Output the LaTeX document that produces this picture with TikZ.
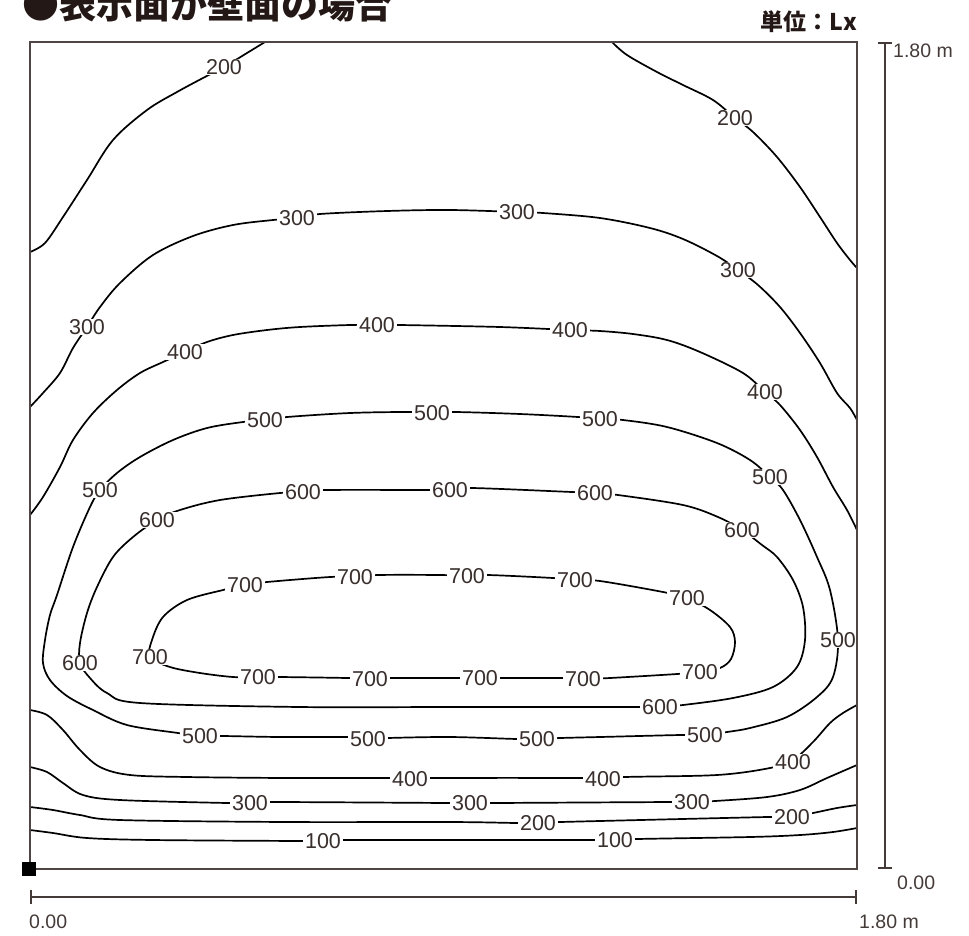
\documentclass[tikz,border=0pt]{standalone}
\usepackage{fontspec}
\setmainfont{Liberation Sans}
\newfontfamily\cjk{Noto Sans CJK JP}
\usetikzlibrary{arrows.meta}
\definecolor{ink}{HTML}{231815}

\begin{document}
\begin{tikzpicture}[x=1pt,y=-1pt,
        contour/.style={line width=1.7pt,line join=round,line cap=round},
        level/.style={fill=white,inner xsep=2.5pt,inner ysep=0.5pt,text=ink!90,font=\fontsize{21.5}{22}\selectfont},
        frame/.style={line width=2pt,draw=ink!80},
        scalebar/.style={line width=1.8pt,draw=ink!85,{Bar[width=14pt]}-{Bar[width=14pt]}},
        scalelabel/.style={anchor=west,inner sep=0pt,text=ink!85,font=\fontsize{19.5}{20}\selectfont}]
        \useasboundingbox (0,0) rectangle (969,935);

        \node[anchor=base west,inner sep=0pt,text=ink,font=\cjk\bfseries\fontsize{37}{40}\selectfont] (Title) at (22,18) {●表示面が壁面の場合};
        \node[anchor=east,inner sep=0pt,text=ink,font=\cjk\bfseries\fontsize{23}{24}\selectfont] (Unit) at (857,22) {単位：Lx};

        \draw[contour] plot[smooth,tension=0.55] coordinates {(30,252) (45,243) (63,217) (87,180) (113,140) (147,110) (177,92) (203,78) (224,67) (247,53) (265,42)};
        \draw[contour] plot[smooth,tension=0.55] coordinates {(612,42) (627,55) (657,72) (683,85) (713,100) (735,118) (753,132) (777,157) (800,187) (820,217) (837,243) (850,260) (857,268)};
        \draw[contour] plot[smooth,tension=0.55] coordinates {(30,407) (43,393) (60,373) (73,348) (87,327) (100,307) (120,283) (153,255) (193,236) (233,225) (273,220) (297,218) (320,214) (387,211) (450,210) (517,212) (543,213) (600,218) (650,228) (683,239) (717,256) (738,270) (758,285) (780,307) (800,333) (820,363) (837,393) (850,408) (857,420)};
        \draw[contour] plot[smooth,tension=0.55] coordinates {(30,515) (43,497) (60,467) (73,440) (93,413) (117,390) (140,373) (163,362) (185,352) (207,342) (233,335) (267,330) (300,327) (350,325) (377,325) (400,325) (500,327) (570,330) (600,331) (633,334) (667,340) (700,352) (743,373) (765,392) (780,405) (800,430) (817,457) (833,487) (847,510) (857,530)};
        \draw[contour] plot[smooth cycle,tension=0.55] coordinates {(100,490) (117,473) (140,457) (173,440) (207,428) (243,422) (265,420) (287,417) (350,413) (407,412) (432,413) (455,412) (520,414) (578,417) (600,419) (623,420) (667,427) (717,443) (750,460) (770,477) (783,490) (800,520) (817,557) (830,590) (838,640) (833,677) (817,697) (787,717) (750,728) (727,732) (705,735) (680,735) (600,737) (560,738) (537,739) (517,739) (450,737) (387,738) (368,739) (347,737) (280,737) (223,736) (200,736) (178,733) (127,725) (93,710) (67,696) (50,680) (43,663) (45,640) (50,615) (57,595) (73,547) (90,507)};
        \draw[contour] plot[smooth cycle,tension=0.55] coordinates {(157,520) (180,510) (220,500) (280,493) (303,492) (327,490) (428,490) (450,490) (472,488) (572,492) (595,493) (618,495) (683,505) (718,517) (742,530) (762,545) (777,557) (793,580) (803,607) (805,640) (797,667) (773,687) (733,698) (683,705) (660,707) (637,707) (450,707) (300,707) (140,703) (107,693) (90,678) (80,663) (80,643) (87,613) (97,587) (113,557) (133,537)};
        \draw[contour] plot[smooth cycle,tension=0.55] coordinates {(223,590) (245,585) (267,582) (330,577) (355,577) (378,575) (440,575) (467,576) (488,575) (553,578) (575,580) (600,581) (663,592) (687,598) (710,610) (730,627) (735,642) (731,659) (720,668) (700,672) (677,674) (610,678) (583,679) (567,678) (500,678) (480,678) (457,678) (390,678) (370,679) (347,678) (280,677) (258,677) (233,677) (200,673) (170,667) (150,657) (152,640) (163,617) (187,600)};
        \draw[contour] plot[smooth,tension=0.55] coordinates {(30,710) (47,715) (63,730) (80,750) (100,767) (130,775) (187,777) (287,778) (387,778) (410,779) (433,778) (582,778) (603,779) (625,777) (717,775) (770,768) (793,760) (813,742) (830,723) (843,713) (857,705)};
        \draw[contour] plot[smooth,tension=0.55] coordinates {(30,767) (47,772) (63,783) (83,795) (120,800) (227,803) (250,803) (273,802) (450,803) (470,803) (493,803) (670,802) (692,802) (715,801) (767,797) (800,790) (827,778) (857,765)};
        \draw[contour] plot[smooth,tension=0.55] coordinates {(30,807) (53,810) (80,815) (120,820) (287,822) (450,822) (517,823) (538,823) (560,822) (767,817) (792,817) (813,813) (837,808) (857,805)};
        \draw[contour] plot[smooth,tension=0.55] coordinates {(30,830) (53,833) (87,838) (153,840) (300,841) (323,841) (347,840) (593,840) (615,840) (637,839) (750,837) (800,835) (833,832) (857,828)};

        \foreach \x/\y/\v [count=\i] in {224/67/200, 735/118/200,
                87/327/300, 297/218/300, 517/212/300, 738/270/300,
                185/352/400, 377/325/400, 570/330/400, 765/392/400,
                100/490/500, 265/420/500, 432/413/500, 600/419/500, 770/477/500, 838/640/500,
                200/736/500, 368/739/500, 537/739/500, 705/735/500,
                157/520/600, 303/492/600, 450/490/600, 595/493/600, 742/530/600, 660/707/600, 80/663/600,
                245/585/700, 355/577/700, 467/576/700, 575/580/700, 687/598/700,
                150/657/700, 258/677/700, 370/679/700, 480/678/700, 583/679/700, 700/672/700,
                410/779/400, 603/779/400, 793/762/400,
                250/803/300, 470/803/300, 692/802/300,
                538/823/200, 792/817/200,
                323/841/100, 615/840/100}
            \node[level] (Level\i) at (\x,\y) {\v};

        \draw[frame] (30,42) rectangle (857,869);
        \node[fill=black,minimum size=14pt,inner sep=0pt] (Origin) at (29,869) {};

        \coordinate (HeightTop) at (885,42);
        \coordinate (HeightBottom) at (885,869);
        \coordinate (WidthLeft) at (30,897);
        \coordinate (WidthRight) at (857,897);
        \draw[scalebar] (HeightTop) -- (HeightBottom);
        \draw[scalebar] (WidthLeft) -- (WidthRight);

        \node[scalelabel] (HeightMax) at (893,51) {1.80 m};
        \node[scalelabel] (HeightZero) at (897,883) {0.00};
        \node[scalelabel] (WidthZero) at (29,922) {0.00};
        \node[scalelabel] (WidthMax) at (859,922) {1.80 m};
\end{tikzpicture}
\end{document}
